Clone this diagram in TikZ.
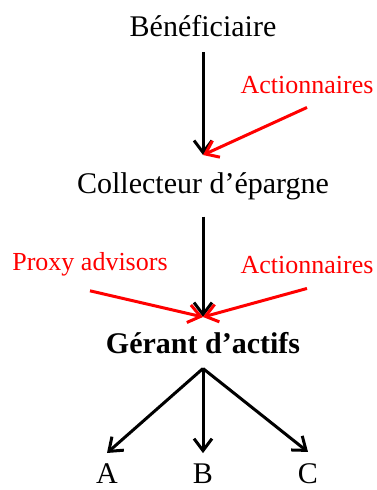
\documentclass[tikz,border=0pt]{standalone}
\usepackage{fontspec}
\setmainfont{Liberation Serif}
\usetikzlibrary{arrows.meta}
\tikzset{>={Straight Barb[length=12pt,width=18pt]}}
\tikzset{
  txt/.style={inner sep=0pt, anchor=base, font=\fontsize{30}{34}\selectfont},
  redtxt/.style={txt, text=red, font=\fontsize{26}{30}\selectfont},
  arr/.style={->, line width=3pt},
  redarr/.style={arr, draw=red},
}

\begin{document}
\begin{tikzpicture}[x=1pt, y=-1pt]
    \useasboundingbox (0,0) rectangle (377,490);
    % chain
    \node[txt](ben)at(203,36){Bénéficiaire};
    \node[txt](col)at(203,193){Collecteur d’épargne};
    \node[txt, font=\fontsize{30}{34}\selectfont\bfseries](ger)at(203,353){Gérant d’actifs};
    \node[redtxt](act1)at(307,93){Actionnaires};
    \node[redtxt](prox)at(90,270){Proxy advisors};
    \node[redtxt](act2)at(307,273){Actionnaires};
    \node[txt](a)at(107,483){A};
    \node[txt](b)at(203,483){B};
    \node[txt](c)at(308,483){C};
    \coordinate(m1)at(203,155);
    \coordinate(m2)at(203,317);
    \draw[arr]([yshift=-16pt]ben.south)--(m1);
    \draw[redarr]([yshift=-14pt]act1.south)--(m1);
    \draw[arr]([yshift=-17pt]col.south)--(m2);
    \draw[redarr]([yshift=-15pt]prox.south)--(m2);
    \draw[redarr]([yshift=-15pt]act2.south)--(m2);
    % fan
    \draw[arr]([yshift=-15pt]ger.south)--([yshift=10pt]a.north);
    \draw[arr]([yshift=-15pt]ger.south)--([yshift=10pt]b.north);
    \draw[arr]([yshift=-15pt]ger.south)--([yshift=11pt]c.north);
\end{tikzpicture}
\end{document}
